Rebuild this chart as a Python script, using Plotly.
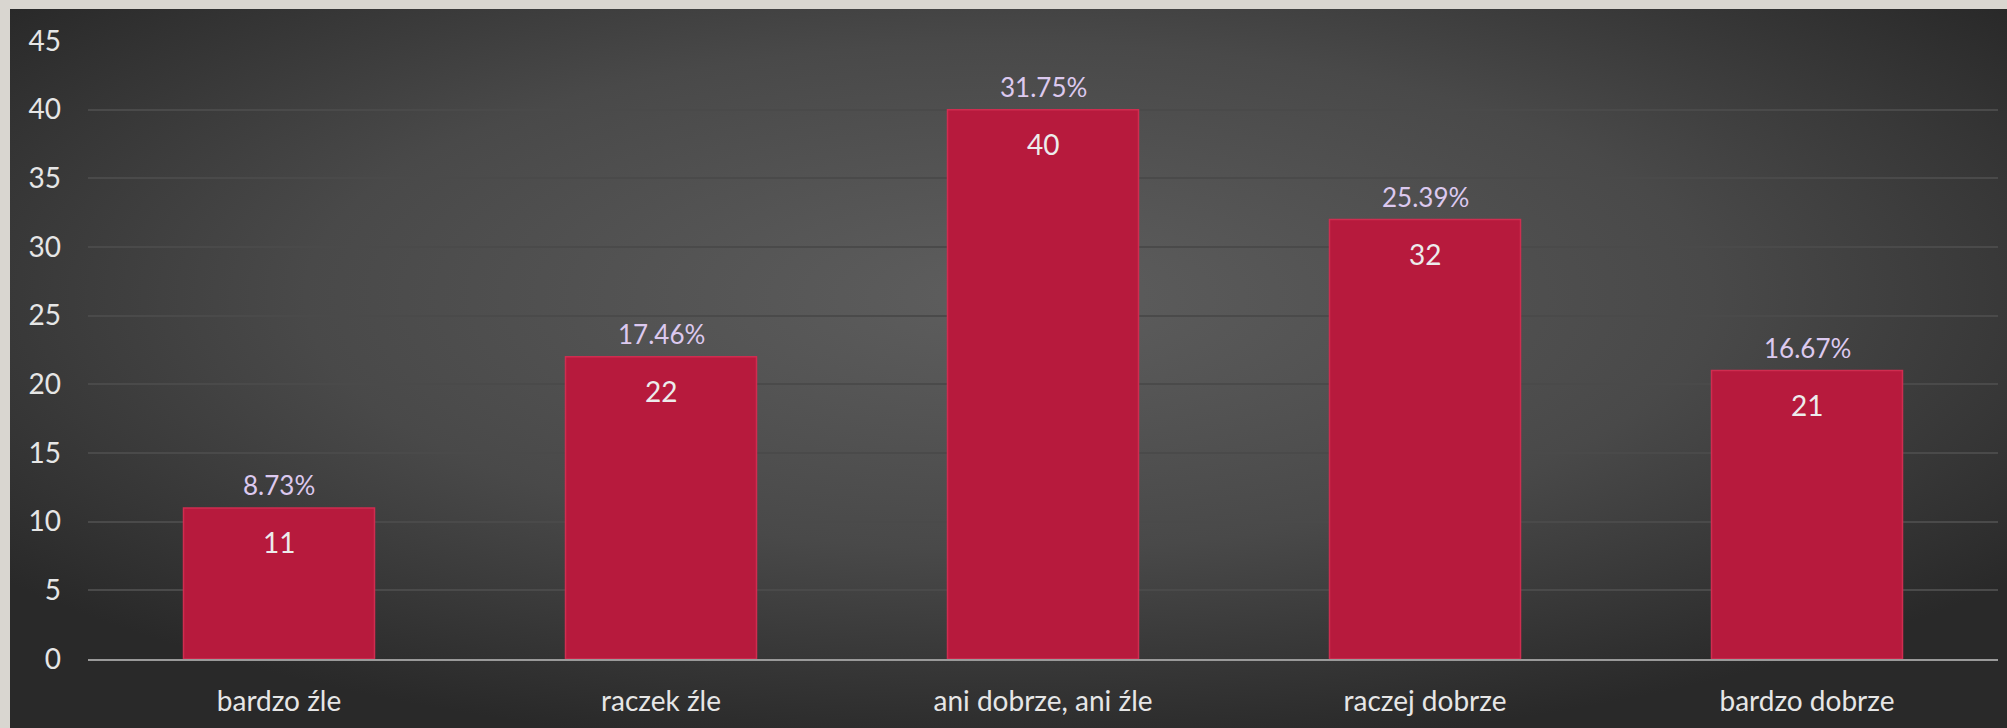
import plotly.graph_objects as go
import urllib.parse

# data
categories = ["bardzo źle", "raczek źle", "ani dobrze, ani źle", "raczej dobrze", "bardzo dobrze"]
counts = [11, 22, 40, 32, 21]
percents = ["8.73%", "17.46%", "31.75%", "25.39%", "16.67%"]
y_ticks = [0, 5, 10, 15, 20, 25, 30, 35, 40, 45]

W, H = 2007, 728
ml, mr, mt, mb = 88, 9, 41, 69
pw = W - ml - mr
ph = H - mt - mb

# dark radial background as inline svg
svg = (
    '<svg xmlns="http://www.w3.org/2000/svg" width="1997" height="719" preserveAspectRatio="none">'
    '<defs><radialGradient id="g" cx="0.5" cy="0.4" r="0.64">'
    '<stop offset="0" stop-color="#5e5e5e"/>'
    '<stop offset="0.55" stop-color="#494949"/>'
    '<stop offset="1" stop-color="#292929"/>'
    '</radialGradient></defs>'
    '<rect width="1997" height="719" fill="url(#g)"/></svg>'
)
bg_src = "data:image/svg+xml;charset=utf-8," + urllib.parse.quote(svg)

font = "Lato, 'Open Sans', sans-serif"

fig = go.Figure()
fig.add_trace(go.Bar(
    x=categories,
    y=counts,
    width=0.5,
    marker=dict(color="#b71a3d", line=dict(color="#cf2d50", width=1.5)),
    hoverinfo="skip",
))

for c, v, p in zip(categories, counts, percents):
    fig.add_annotation(x=c, y=v, text=p, showarrow=False, yanchor="bottom", yshift=5,
                       font=dict(family=font, size=26, color="#dcc9ef"))
    fig.add_annotation(x=c, y=v, text=str(v), showarrow=False, yanchor="top", yshift=-15,
                       font=dict(family=font, size=28, color="#ececec"))

fig.add_layout_image(
    source=bg_src,
    xref="paper", yref="paper",
    x=(10 - ml) / pw, y=1 + (mt - 9) / ph,
    sizex=(W - 10) / pw, sizey=(H - 9) / ph,
    xanchor="left", yanchor="top",
    sizing="stretch", layer="below",
)

fig.update_layout(
    width=W, height=H,
    margin=dict(l=ml, r=mr, t=mt, b=mb, pad=0),
    paper_bgcolor="#d9d6d0",
    plot_bgcolor="rgba(0,0,0,0)",
    showlegend=False,
    font=dict(family=font, color="#e6e6e6"),
    bargap=0.5,
    xaxis=dict(
        showgrid=False, showline=True, linecolor="#9a9a9a", linewidth=2,
        tickfont=dict(family=font, size=28, color="#e6e6e6"),
        ticks="", ticklabelstandoff=16,
    ),
    yaxis=dict(
        range=[0, 45], tickvals=y_ticks,
        showgrid=True, gridcolor="#4a4a4a", gridwidth=2,
        zeroline=False, showline=False,
        tickfont=dict(family=font, size=28, color="#e6e6e6"),
        ticks="", ticklabelstandoff=26,
    ),
)

# page body has a default 8px margin, drop it so the figure fills the window
fig.write_html("out.html", config={"displayModeBar": False},
               post_script="document.body.style.margin='0';document.body.style.overflow='hidden';")
